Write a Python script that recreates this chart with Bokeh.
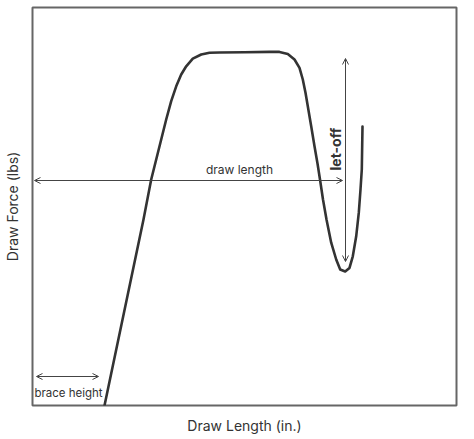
from bokeh.plotting import figure
from bokeh.models import Range1d, Arrow, OpenHead, ColumnDataSource
from bokeh.core.properties import value
from bokeh.embed import file_html
from bokeh.resources import INLINE

# draw force curve (x: draw length, y: force)
curve_x = [7.2, 11.1, 11.87, 12.37, 12.87, 13.37, 13.87, 14.37, 14.87, 15.37, 16.03,
           16.87, 17.7, 18.7, 21.2, 23.7, 24.7, 25.53, 26.2, 26.7, 27.03, 27.3,
           27.53, 27.87, 28.2, 28.5, 28.75, 29.05, 29.4, 29.87, 30.37, 30.77,
           31.27, 31.7, 32.03, 32.37, 32.63, 32.8, 32.93, 33.0]
curve_y = [0.0, 46.5, 56.5, 61.5, 66.5, 71.5, 76.1, 79.8, 82.75, 84.8, 86.7,
           87.75, 88.2, 88.25, 88.3, 88.4, 88.4, 87.9, 86.5, 84.4, 81.5, 78.2,
           74.8, 69.8, 64.8, 60.5, 56.5, 51.5, 46.5, 40.7, 36.5, 34.0,
           33.5, 34.4, 37.3, 42.3, 48.2, 54.0, 59.0, 69.75]

# annotation arrows: (x_start, y_start, x_end, y_end)
draw_length_arrow = (0.2, 56.25, 31.0, 56.25)
let_off_arrow = (31.3, 36.0, 31.3, 86.75)
brace_height_arrow = (0.4, 7.25, 6.6, 7.25)

labels = ["draw length", "let-off", "brace height"]
label_x = [20.7, 30.27, 3.6]
label_y = [58.9, 64.1, 3.25]

FONT = "Inter"
INK = "#333333"

p = figure(frame_width=424, frame_height=398,
           x_range=Range1d(0, 42.4), y_range=Range1d(0, 99.5),
           output_backend="svg", toolbar_location=None, tools="",
           min_border_left=27, min_border_right=8, min_border_top=7, min_border_bottom=0)

p.grid.visible = False
p.outline_line_color = "#666666"
p.outline_line_width = 2
p.background_fill_color = "white"
p.border_fill_color = "white"

for ax in (p.xaxis, p.yaxis):
    ax.ticker = []
    ax.axis_line_color = None
    ax.major_tick_line_color = None
    ax.minor_tick_line_color = None
    ax.major_tick_out = 0
    ax.major_tick_in = 0
    ax.major_label_standoff = 0
    ax.axis_label_text_font = FONT
    ax.axis_label_text_font_size = "14px"
    ax.axis_label_text_font_style = "normal"
    ax.axis_label_text_color = INK
p.xaxis.axis_label = "Draw Length (in.)"
p.yaxis.axis_label = "Draw Force (lbs)"
p.xaxis.axis_label_standoff = 11
p.yaxis.axis_label_standoff = 12

p.line(curve_x, curve_y, line_color=INK, line_width=2.6, line_join="round", line_cap="round")

for x0, y0, x1, y1 in (draw_length_arrow, let_off_arrow, brace_height_arrow):
    p.add_layout(Arrow(x_start=x0, y_start=y0, x_end=x1, y_end=y1,
                       line_color="#444444", line_width=1,
                       start=OpenHead(size=6, line_color="#444444", line_width=1),
                       end=OpenHead(size=6, line_color="#444444", line_width=1)))

src = ColumnDataSource(dict(x=label_x, y=label_y, text=labels,
                            angle=[0, 1.5708, 0],
                            size=["12px", "14px", "11.5px"],
                            style=["normal", "bold", "normal"]))
p.text(x="x", y="y", text="text", angle="angle", source=src,
       text_font=value(FONT), text_font_size="size", text_font_style="style",
       text_color=INK, text_align="center", text_baseline="middle")

open("out.html", "w").write(file_html(p, INLINE))
